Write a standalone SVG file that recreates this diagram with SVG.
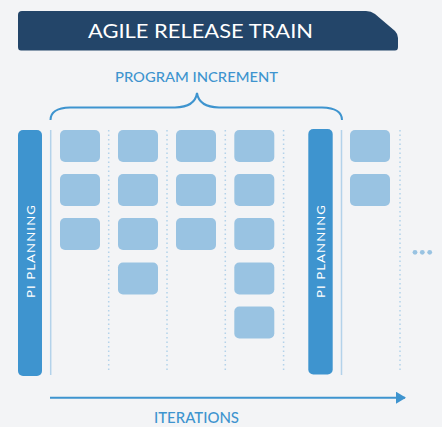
<svg xmlns="http://www.w3.org/2000/svg" width="442" height="427" viewBox="0 0 442 427">
<defs>
<style>
.bg{fill:#f3f4f6}
.card{fill:#99c3e2}
.bar{fill:#3e94cf}
.solid{stroke:#b3d2ea;stroke-width:1.5;fill:none}
.dot{stroke:#b3d2ea;stroke-width:1.5;stroke-dasharray:1.5 3;fill:none}
.lbl{font-family:"Lato","Open Sans",sans-serif;fill:#3e94cf;font-weight:500}
.pi{font-family:"Lato","Open Sans",sans-serif;fill:#ffffff;font-size:12px;letter-spacing:1px}
</style>
<marker id="ah" viewBox="0 0 10 12" refX="9" refY="6" markerWidth="10" markerHeight="12" markerUnits="userSpaceOnUse" orient="auto">
<path d="M0,0 L10,6 L0,12 Z" fill="#3e94cf"/>
</marker>
</defs>
<rect class="bg" x="0" y="0" width="442" height="427"/>
<g id="title">
<path d="M22,11 L366,11 Q371,11 375,14 L395,31 Q398,34 398,38 L398,47 Q398,50.5 395,50.5 L21,50.5 Q18,50.5 18,47 L18,15 Q18,11 22,11 Z" fill="#234569"/>
<text x="200.5" y="38" text-anchor="middle" font-family="Lato,'Open Sans',sans-serif" font-size="19" fill="#ffffff" textLength="225" lengthAdjust="spacingAndGlyphs">AGILE RELEASE TRAIN</text>
</g>
<g id="program-increment">
<text class="lbl" x="196.5" y="82" text-anchor="middle" font-size="14" textLength="163" lengthAdjust="spacingAndGlyphs">PROGRAM INCREMENT</text>
<path d="M50.5,120 Q50.5,108 70,107.5 L175,107.5 Q195,107 197,93 Q199,107 219,107.5 L322,107.5 Q342,108 342,120" fill="none" stroke="#3e94cf" stroke-width="2"/>
</g>
<g id="connectors">
<line class="solid" x1="50.7" y1="130" x2="50.7" y2="375"/>
<line class="dot" x1="108.7" y1="130" x2="108.7" y2="373"/>
<line class="dot" x1="167" y1="130" x2="167" y2="373"/>
<line class="dot" x1="225.3" y1="130" x2="225.3" y2="373"/>
<line class="dot" x1="283.6" y1="130" x2="283.6" y2="373"/>
<line class="solid" x1="341.5" y1="130" x2="341.5" y2="375"/>
<line class="dot" x1="400" y1="130" x2="400" y2="373"/>
<line x1="50" y1="397.7" x2="405" y2="397.7" stroke="#3e94cf" stroke-width="2" marker-end="url(#ah)"/>
</g>
<g id="pi-planning-1">
<rect class="bar" x="18" y="130" width="24" height="246" rx="5"/>
<text class="pi" transform="translate(35,251) rotate(-90)" text-anchor="middle" textLength="94" lengthAdjust="spacingAndGlyphs">PI PLANNING</text>
</g>
<g id="pi-planning-2">
<rect class="bar" x="308.3" y="129" width="24.4" height="245.5" rx="5"/>
<text class="pi" transform="translate(325,251) rotate(-90)" text-anchor="middle" textLength="94" lengthAdjust="spacingAndGlyphs">PI PLANNING</text>
</g>
<g id="iteration-1">
<rect class="card" x="60" y="130" width="40" height="32" rx="5"/>
<rect class="card" x="60" y="174" width="40" height="32" rx="5"/>
<rect class="card" x="60" y="218" width="40" height="32" rx="5"/>
</g>
<g id="iteration-2">
<rect class="card" x="118" y="130" width="40" height="32" rx="5"/>
<rect class="card" x="118" y="174" width="40" height="32" rx="5"/>
<rect class="card" x="118" y="218" width="40" height="32" rx="5"/>
<rect class="card" x="118" y="262.5" width="40" height="32" rx="5"/>
</g>
<g id="iteration-3">
<rect class="card" x="176" y="130" width="40" height="32" rx="5"/>
<rect class="card" x="176" y="174" width="40" height="32" rx="5"/>
<rect class="card" x="176" y="218" width="40" height="32" rx="5"/>
</g>
<g id="iteration-4">
<rect class="card" x="234.3" y="130" width="40" height="32" rx="5"/>
<rect class="card" x="234.3" y="174" width="40" height="32" rx="5"/>
<rect class="card" x="234.3" y="218" width="40" height="32" rx="5"/>
<rect class="card" x="234.3" y="262.5" width="40" height="32" rx="5"/>
<rect class="card" x="234.3" y="306.5" width="40" height="32" rx="5"/>
</g>
<g id="iteration-5">
<rect class="card" x="350" y="130" width="40" height="32" rx="5"/>
<rect class="card" x="350" y="174" width="40" height="32" rx="5"/>
</g>
<g id="ellipsis">
<circle cx="415" cy="252.3" r="2.4" fill="#99c3e2"/>
<circle cx="422.3" cy="252.3" r="2.4" fill="#99c3e2"/>
<circle cx="429.7" cy="252.3" r="2.4" fill="#99c3e2"/>
</g>
<g id="iterations">
<text class="lbl" x="196.5" y="423" text-anchor="middle" font-size="14.5" textLength="85" lengthAdjust="spacingAndGlyphs">ITERATIONS</text>
</g>
</svg>
